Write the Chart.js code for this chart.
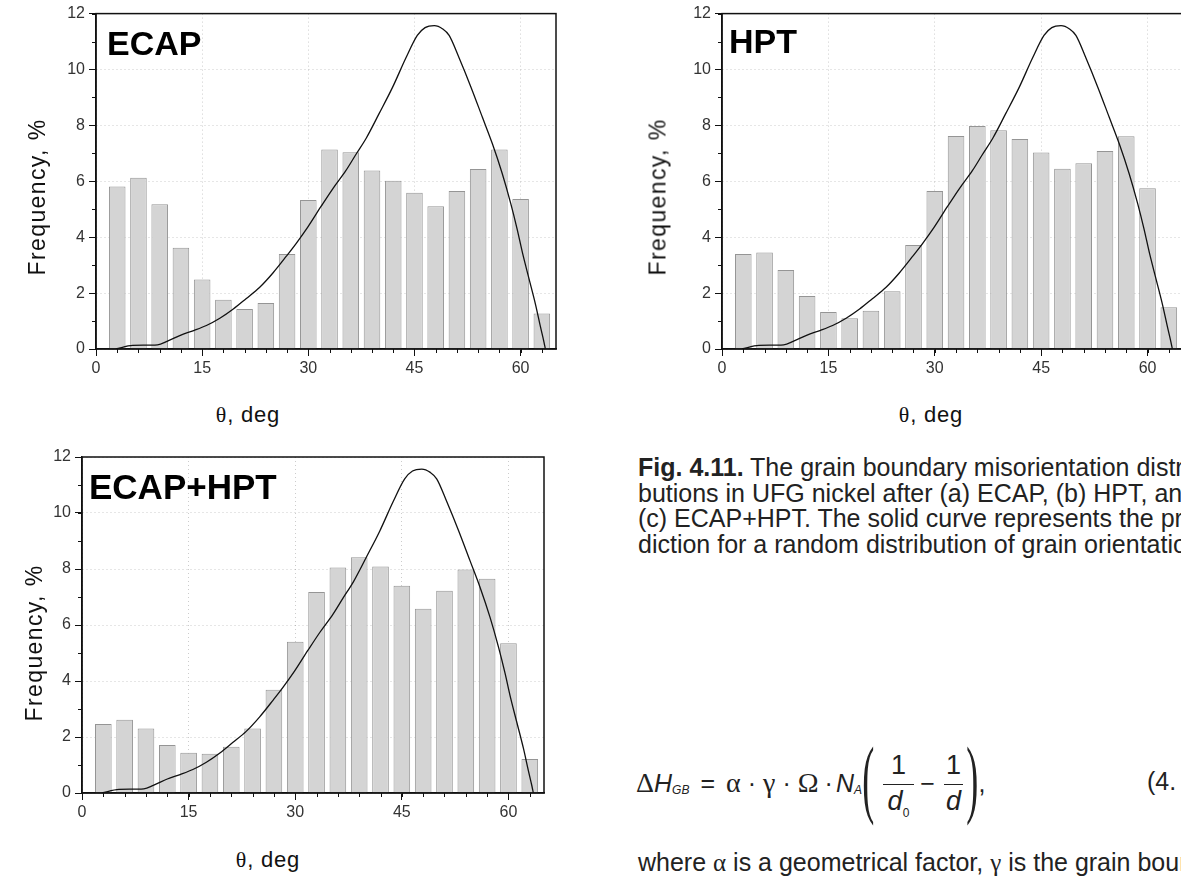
<!DOCTYPE html>
<html>
<head>
<meta charset="utf-8">
<script src="https://cdn.jsdelivr.net/npm/chart.js@4.4.1/dist/chart.umd.min.js"></script>
<style>
  html, body { margin: 0; padding: 0; background: #fff; }
  body { width: 1181px; height: 877px; overflow: hidden; position: relative;
         font-family: "Liberation Sans", Arial, sans-serif; color: #111; }
  canvas { position: absolute; }
  .tag { position: absolute; font-weight: bold; font-size: 34px; line-height: 1; color: #000; }
  .ylab { position: absolute; font-size: 23px; letter-spacing: 1.4px; line-height: 1; white-space: nowrap;
          transform: translate(-50%, -50%) rotate(-90deg); }
  .xlab { position: absolute; font-size: 22px; letter-spacing: 0.8px; line-height: 1; white-space: nowrap;
          transform: translate(-50%, -50%); }
  .g { font-family: "Liberation Serif", "DejaVu Serif", serif; }
  .caption { position: absolute; left: 638px; top: 455px; font-size: 25px; line-height: 25.5px;
             white-space: nowrap; letter-spacing: 0; color: #222; }
  .where { position: absolute; left: 638px; top: 849px; font-size: 25px; line-height: 26px;
           white-space: nowrap; letter-spacing: 0; color: #222; }
  #eq { position: absolute; left: 636px; top: 742px; height: 82px; display: flex; align-items: center;
        font-size: 25px; white-space: nowrap; color: #222; }
  #eq .g { font-size: 28px; }
  #eq sub { font-size: 12px; position: relative; top: 7px; vertical-align: baseline; }
  #eq .op { margin: 0 11px; }
  #eq .minus { margin: 0 9px 0 6px; }
  #eq .dot { margin: 0 7px; }
  #eq .par { font-family: "Liberation Serif", serif; font-size: 86px; line-height: 1;
             display: inline-block; transform: scaleX(0.42); position: relative; top: -5px; }
  #eq .lp { margin: 0 0 0 -8px; }
  #eq .rp { margin: 0 -8px 0 -5px; }
  #eq .frac { display: inline-flex; flex-direction: column; align-items: center; font-size: 27px; }
  #eq .frac .num { padding-bottom: 3px; border-bottom: 1px solid #222; align-self: stretch; text-align: center; }
  #eq .frac .den { padding: 1px 5px 0 5px; }
  #eq .frac.tight .den { padding: 1px 2px 0 2px; }
  #eqn { position: absolute; left: 1147px; top: 767px; font-size: 25px; color: #222; white-space: nowrap; }
</style>
</head>
<body>

<canvas id="c1" width="600" height="380" style="left:0px; top:0px;"></canvas>
<canvas id="c2" width="600" height="380" style="left:625px; top:0px;"></canvas>
<canvas id="c3" width="600" height="380" style="left:0px; top:440px;"></canvas>

<div class="tag" style="left:107px; top:26px;">ECAP</div>
<div class="tag" style="left:729px; top:24px;">HPT</div>
<div class="tag" style="left:89px; top:469px; font-size:35px;">ECAP+HPT</div>

<div class="ylab" style="left:37px; top:197px;">Frequency, %</div>
<div class="ylab" style="left:658px; top:197px;">Frequency, %</div>
<div class="ylab" style="left:34px; top:643px;">Frequency, %</div>

<div class="xlab" style="left:248px; top:415px;"><span class="g">θ</span>, deg</div>
<div class="xlab" style="left:931px; top:415px;"><span class="g">θ</span>, deg</div>
<div class="xlab" style="left:268px; top:860px;"><span class="g">θ</span>, deg</div>

<div class="caption"><b>Fig. 4.11.</b> The grain boundary misorientation distri-<br>butions in UFG nickel after (a) ECAP, (b) HPT, and<br>(c) ECAP+HPT. The solid curve represents the pre-<br>diction for a random distribution of grain orientations.</div>

<div id="eq">
  <span class="g">Δ</span><i>H</i><sub><i>GB</i></sub>
  <span class="op">=</span><span class="g">α</span><span class="dot">·</span><span class="g">γ</span><span class="dot">·</span><span class="g">Ω</span><span class="dot" style="margin:0 3px 0 6px">·</span><i>N</i><sub><i>A</i></sub>
  <span class="par lp">(</span>
  <span class="frac"><span class="num">1</span><span class="den"><i>d</i><sub>0</sub></span></span>
  <span class="minus">−</span>
  <span class="frac tight"><span class="num">1</span><span class="den"><i>d</i></span></span>
  <span class="par rp">)</span>,
</div>
<div id="eqn">(4.</div>

<div class="where">where <span class="g">α</span> is a geometrical factor, <span class="g">γ</span> is the grain boundary</div>

<script>
// bin centres, deg
var angles = [3, 6, 9, 12, 15, 18, 21, 24, 27, 30, 33, 36, 39, 42, 45, 48, 51, 54, 57, 60, 63];

// frequencies, %
var ecapFreq = [5.81, 6.13, 5.18, 3.62, 2.49, 1.76, 1.43, 1.65, 3.40, 5.33, 7.14,
                7.04, 6.39, 6.02, 5.59, 5.11, 5.65, 6.44, 7.14, 5.37, 1.27];
var hptFreq = [3.40, 3.45, 2.83, 1.90, 1.32, 1.10, 1.37, 2.07, 3.72, 5.65, 7.62,
               7.98, 7.83, 7.51, 7.03, 6.45, 6.65, 7.08, 7.61, 5.75, 1.49];
var ecapHptFreq = [2.46, 2.62, 2.30, 1.71, 1.44, 1.40, 1.65, 2.30, 3.69, 5.40, 7.18,
                   8.05, 8.42, 8.09, 7.40, 6.58, 7.22, 7.98, 7.65, 5.35, 1.21];

// random (Mackenzie) curve
var curveAngle = [2.8, 5.2, 8.7, 10.1, 12.0, 13.8, 15.6, 17.5, 19.4, 21.2, 23.1, 25.0, 26.9,
                  28.3, 29.9, 31.8, 33.5, 35.3, 36.7, 38.2, 40.0, 41.9, 43.8, 45.4, 46.5,
                  47.8, 49.0, 49.9, 51.3, 53.0, 54.6, 56.0, 57.4, 58.6, 59.5, 60.3, 61.2,
                  62.1, 62.8, 63.3, 63.5];
var curveFreq = [0, 0.13, 0.15, 0.28, 0.50, 0.66, 0.84, 1.10, 1.43, 1.80, 2.20, 2.72, 3.32,
                 3.78, 4.35, 5.10, 5.75, 6.38, 6.95, 7.55, 8.42, 9.36, 10.42, 11.22, 11.50,
                 11.57, 11.45, 11.22, 10.42, 9.36, 8.29, 7.35, 6.28, 5.21, 4.30, 3.40, 2.50,
                 1.60, 0.80, 0.25, 0];

var xTickLabels = [0, 15, 30, 45, 60];
var yTickLabels = [0, 2, 4, 6, 8, 10, 12];

var tickFont = {family: "'Liberation Sans', Arial, sans-serif", size: 16};

// minor ticks + closed frame
var framePlugin = {
  id: 'frame',
  afterDraw: function(chart) {
    var ctx = chart.ctx, a = chart.chartArea, sx = chart.scales.x, sy = chart.scales.y;
    ctx.save();
    ctx.strokeStyle = '#111';
    ctx.lineWidth = 1;
    ctx.beginPath();
    for (var v = 0; v <= 65; v += 3) {
      var x = Math.round(sx.getPixelForValue(v)) + 0.5;
      ctx.moveTo(x, a.bottom);
      ctx.lineTo(x, a.bottom + 4);
    }
    for (var w = 0; w <= 12; w += 1) {
      var y = Math.round(sy.getPixelForValue(w)) + 0.5;
      ctx.moveTo(a.left - 4, y);
      ctx.lineTo(a.left, y);
    }
    ctx.stroke();
    ctx.lineWidth = 1.5;
    ctx.strokeRect(a.left, a.top, a.right - a.left, a.bottom - a.top);
    ctx.restore();
  }
};

function makeChart(id, freq, box) {
  return new Chart(document.getElementById(id), {
    type: 'bar',
    data: {
      datasets: [{
        type: 'line',
        data: curveAngle.map(function(a, i) { return {x: a, y: curveFreq[i]}; }),
        borderColor: '#111',
        borderWidth: 1.3,
        pointRadius: 0,
        cubicInterpolationMode: 'monotone',
        fill: false,
        order: 0
      }, {
        type: 'bar',
        data: angles.map(function(a, i) { return {x: a, y: freq[i]}; }),
        backgroundColor: '#d4d4d4',
        borderColor: '#959595',
        borderWidth: 1,
        barPercentage: 0.78,
        categoryPercentage: 1,
        order: 1
      }]
    },
    options: {
      responsive: false,
      animation: false,
      layout: {padding: {top: box.top, right: box.right, left: 0, bottom: 0}},
      plugins: {legend: {display: false}, tooltip: {enabled: false}},
      scales: {
        x: {
          type: 'linear', min: 0, max: 65, offset: false,
          afterBuildTicks: function(s) { s.ticks = xTickLabels.map(function(v) { return {value: v}; }); },
          afterFit: function(s) { s.height = box.bottom; },
          grid: {color: 'rgba(0,0,0,0.2)', tickColor: '#111', tickLength: 7, tickWidth: 1, offset: false},
          border: {color: '#111', width: 1.5, dash: [1, 3]},
          ticks: {color: '#333', font: tickFont, padding: 3, maxRotation: 0, autoSkip: false}
        },
        y: {
          min: 0, max: 12,
          afterBuildTicks: function(s) { s.ticks = yTickLabels.map(function(v) { return {value: v}; }); },
          afterFit: function(s) { s.width = box.left; },
          grid: {color: 'rgba(0,0,0,0.2)', tickColor: '#111', tickLength: 7, tickWidth: 1},
          border: {color: '#111', width: 1.5, dash: [1, 3]},
          ticks: {color: '#333', font: tickFont, padding: 4}
        }
      }
    },
    plugins: [framePlugin]
  });
}

makeChart('c1', ecapFreq, {left: 96, top: 11, right: 44, bottom: 31});
makeChart('c2', hptFreq, {left: 97, top: 12, right: 42, bottom: 31});
makeChart('c3', ecapHptFreq, {left: 82, top: 17, right: 56, bottom: 27});
</script>
</body>
</html>
